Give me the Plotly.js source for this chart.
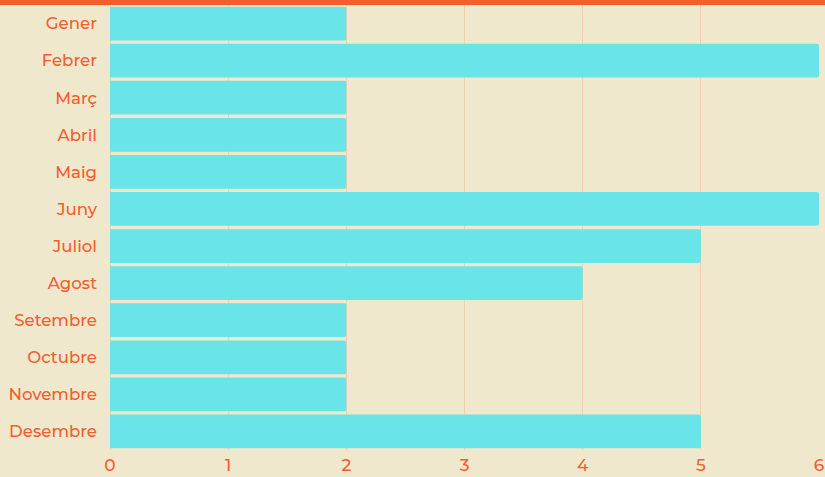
<!DOCTYPE html>
<html><head><meta charset="utf-8">
<script src="https://cdn.plot.ly/plotly-3.0.1.min.js"></script>
<style>html,body{margin:0;padding:0;background:#EFE8CD;}#chart{width:825px;height:477px;}</style>
</head><body><div id="chart"></div>
<script>
const months = ["Gener","Febrer","Març","Abril","Maig","Juny","Juliol","Agost","Setembre","Octubre","Novembre","Desembre"];
const values = [2,6,2,2,2,6,5,4,2,2,2,5];
const xTicks = [0,1,2,3,4,5,6];

const trace = {
  type: 'bar', orientation: 'h', x: values, y: months,
  marker: {color: '#69E4E8'}, hoverinfo: 'x+y'
};
const layout = {
  width: 825, height: 477,
  paper_bgcolor: '#EFE8CD', plot_bgcolor: '#EFE8CD',
  margin: {l: 110, r: 6, t: 5, b: 27},
  bargap: 0.09, barcornerradius: 2,
  font: {family: 'Montserrat, "Noto Sans", sans-serif', color: '#F45D2E', size: 16},
  xaxis: {range: [0, 6], tickvals: xTicks, showgrid: true, gridcolor: '#F1CFA8', gridwidth: 1,
    zeroline: true, zerolinecolor: '#F1CFA8', showline: false, ticks: '', ticklabelstandoff: 3,
    tickfont: {size: 17, weight: 500}, fixedrange: true},
  yaxis: {autorange: 'reversed', showgrid: false, zeroline: false, showline: false, ticks: '', ticklabelstandoff: 12,
    tickfont: {size: 16.6, weight: 500}, fixedrange: true},
  shapes: [{type: 'rect', xref: 'paper', yref: 'paper', x0: -0.2, x1: 1.02, y0: 1.0, y1: 1.02,
    fillcolor: '#F55D30', line: {width: 0}}],
  showlegend: false
};
Plotly.newPlot('chart', [trace], layout, {displayModeBar: false, staticPlot: true});
</script></body></html>
